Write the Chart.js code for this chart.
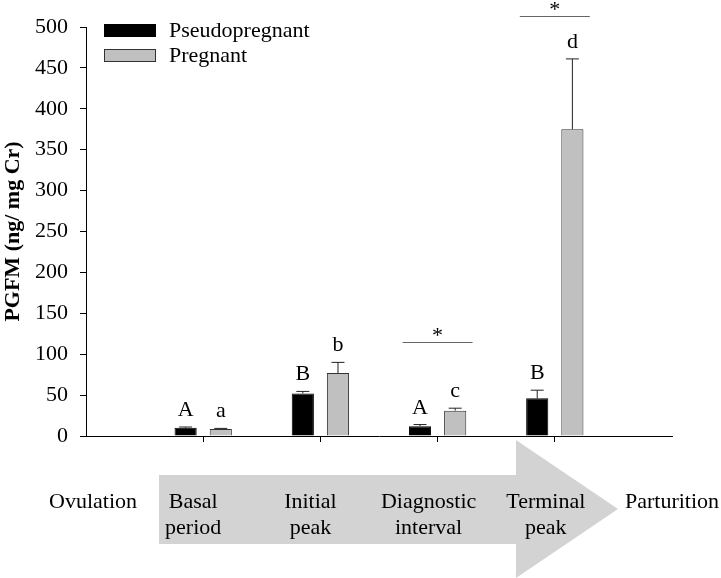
<!DOCTYPE html>
<html>
<head>
<meta charset="utf-8">
<script src="https://cdn.jsdelivr.net/npm/chart.js@4"></script>
<style>
	html, body { margin: 0; padding: 0; background: #fff; }
	canvas { display: block; }
</style>
</head>
<body>
<canvas id="pgfm" width="721" height="578"></canvas>
<script>
// PGFM by phase — pseudopregnant vs pregnant

const phases = ['Ovulation', ['Basal', 'period'], ['Initial', 'peak'], ['Diagnostic', 'interval'], ['Terminal', 'peak'], 'Parturition'];

// means / SEM for the four sampled phases (Basal, Initial, Diagnostic, Terminal)
const pseudoMean = [10, 52, 12, 46];
const pseudoErr = [1, 2.5, 2, 10];
const pregMean = [8.5, 77, 31, 375];
const pregErr = [0.8, 13, 3, 86];

const pseudoLetters = ['A', 'B', 'A', 'B'];
const pregLetters = ['a', 'b', 'c', 'd'];

// height of the "*" bracket between groups (null = none)
const sigLevel = [null, null, 115, 513];

const yMin = 0, yMax = 500, yStep = 50;

const FONT = "'Liberation Serif', 'Times New Roman', serif";
const GREY = '#c0c0c0';
const labelShift = [7, -10, -10, -9, -9, 0];

Chart.defaults.font.family = FONT;
Chart.defaults.color = '#000';

const pad = arr => [null, ...arr, null];

const decor = {
	id: 'decor',
	beforeDraw(chart) {
		// grey timeline arrow behind the phase names
		const c = chart.ctx;
		c.save();
		c.fillStyle = '#d3d3d3';
		c.beginPath();
		c.moveTo(159, 475); c.lineTo(516, 475); c.lineTo(516, 440); c.lineTo(618, 509);
		c.lineTo(516, 578); c.lineTo(516, 544); c.lineTo(159, 544);
		c.closePath();
		c.fill();
		c.restore();
	},
	afterDatasetsDraw(chart) {
		const c = chart.ctx, y = chart.scales.y, x = chart.scales.x;
		c.save();
		c.font = '22px ' + FONT;
		c.textAlign = 'center';
		c.textBaseline = 'alphabetic';
		chart.data.datasets.forEach((ds, di) => {
			const meta = chart.getDatasetMeta(di);
			meta.data.forEach((bar, i) => {
				const v = ds.data[i];
				if (v == null) return;
				const top = y.getPixelForValue(v + ds.err[i]);
				// upper error whisker
				c.strokeStyle = '#222';
				c.lineWidth = 1;
				c.beginPath();
				c.moveTo(bar.x, bar.y); c.lineTo(bar.x, top);
				c.moveTo(bar.x - 6.5, top); c.lineTo(bar.x + 6.5, top);
				c.stroke();
				c.fillStyle = '#000';
				c.fillText(ds.letters[i], bar.x, top - 11);
			});
		});
		// significance brackets
		sigLevel.forEach((lv, k) => {
			if (lv == null) return;
			const cx = x.getPixelForValue(k + 1), py = Math.round(y.getPixelForValue(lv)) + 0.5;
			c.strokeStyle = '#666';
			c.beginPath();
			c.moveTo(cx - 35, py); c.lineTo(cx + 35, py);
			c.stroke();
			c.fillText('*', cx, py - 1);
		});
		// legend
		c.textAlign = 'left';
		chart.data.datasets.forEach((ds, di) => {
			const ly = 24 + di * 25;
			c.fillStyle = ds.backgroundColor;
			c.fillRect(104, ly, 52, 12);
			c.strokeStyle = ds.borderColor;
			c.strokeRect(104.5, ly + 0.5, 51, 12);
			c.fillStyle = '#000';
			c.fillText(ds.label, 169, ly + 13);
		});
		c.restore();
	},
	afterDraw(chart) {
		// phase names along the arrow
		const c = chart.ctx, x = chart.scales.x;
		c.save();
		c.font = '22px ' + FONT;
		c.fillStyle = '#000';
		c.textAlign = 'center';
		c.textBaseline = 'middle';
		chart.data.labels.forEach((lab, i) => {
			const lines = Array.isArray(lab) ? lab : [lab];
			const px = x.getPixelForValue(i) + labelShift[i];
			lines.forEach((t, j) => c.fillText(t, px, 502 + j * 26.5));
		});
		c.restore();
	}
};

new Chart(document.getElementById('pgfm'), {
	type: 'bar',
	data: {
		labels: phases,
		datasets: [
			{ label: 'Pseudopregnant', data: pad(pseudoMean), err: pad(pseudoErr), letters: pad(pseudoLetters), backgroundColor: '#000', borderColor: '#000', borderWidth: 1 },
			{ label: 'Pregnant', data: pad(pregMean), err: pad(pregErr), letters: pad(pregLetters), backgroundColor: GREY, borderColor: '#333', borderWidth: 1 }
		]
	},
	options: {
		responsive: false,
		animation: false,
		datasets: { bar: { categoryPercentage: 0.6, barPercentage: 0.63 } },
		layout: { padding: { top: 27, right: 49, left: 0, bottom: 0 } },
		plugins: { legend: { display: false }, tooltip: { enabled: false } },
		scales: {
			x: {
				offset: false,
				grid: { offset: false, drawOnChartArea: false, tickLength: 6, tickColor: ctx => (ctx.index === 0 || ctx.index === 5) ? 'rgba(0,0,0,0)' : '#000' },
				border: { color: '#000', width: 1 },
				ticks: { display: false },
				afterFit: s => { s.height = 142; }
			},
			y: {
				min: yMin, max: yMax,
				ticks: { stepSize: yStep, padding: 12, color: '#000', font: { size: 22 } },
				grid: { drawOnChartArea: false, tickLength: 6, tickColor: '#000' },
				border: { color: '#000', width: 1 },
				title: { display: true, text: 'PGFM (ng/ mg Cr)', color: '#000', font: { size: 22, weight: 'bold' }, padding: 0 },
				afterFit: s => { s.width = 86; }
			}
		}
	},
	plugins: [decor]
});
</script>
</body>
</html>
